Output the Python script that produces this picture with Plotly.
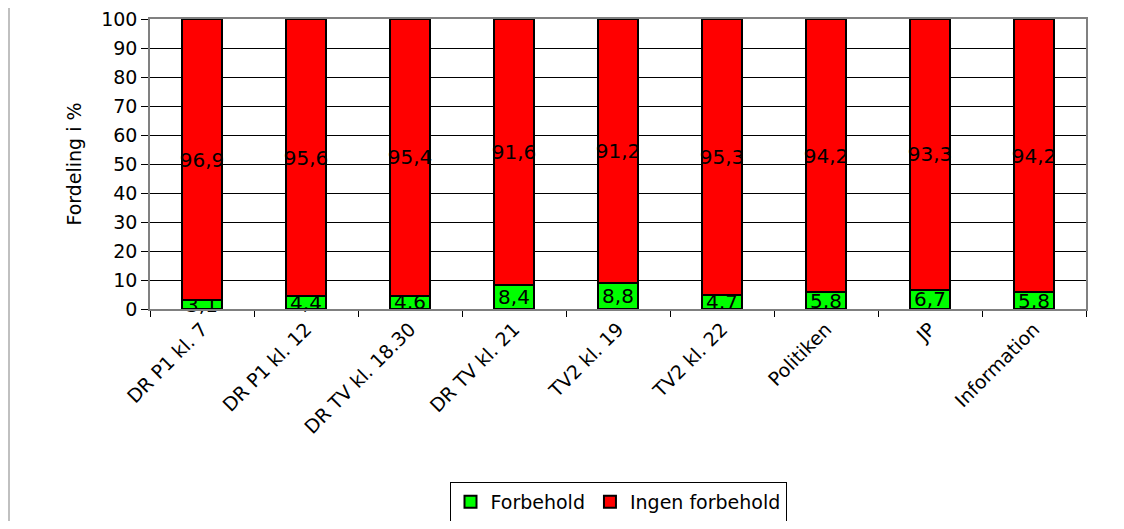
import plotly.graph_objects as go

categories = ["DR P1 kl. 7", "DR P1 kl. 12", "DR TV kl. 18.30", "DR TV kl. 21",
              "TV2 kl. 19", "TV2 kl. 22", "Politiken", "JP", "Information"]
forbehold = [3.1, 4.4, 4.6, 8.4, 8.8, 4.7, 5.8, 6.7, 5.8]
ingen_forbehold = [96.9, 95.6, 95.4, 91.6, 91.2, 95.3, 94.2, 93.3, 94.2]
y_ticks = list(range(0, 101, 10))

FONT = "DejaVu Sans"

# the page body has an 8px margin, so the figure is placed at (8, 8)
W, H = 1116, 513
L, R, T, B = 142, 38, 11, 212
PW, PH = W - L - R, H - T - B

fig = go.Figure()
for name, vals, color in [("Forbehold", forbehold, "#00FF00"),
                          ("Ingen forbehold", ingen_forbehold, "#FF0000")]:
    fig.add_trace(go.Bar(
        x=categories, y=vals, name=name,
        marker=dict(color=color, line=dict(color="black", width=2)),
        texttemplate="%{y:.1f}", textposition="inside",
        insidetextanchor="middle", constraintext="none", textangle=0,
        insidetextfont=dict(family=FONT, size=20, color="black"),
        cliponaxis=False,
    ))

fig.update_layout(
    width=W, height=H,
    barmode="stack", bargap=0.615,
    separators=",.",
    plot_bgcolor="white", paper_bgcolor="white",
    font=dict(family=FONT, size=19, color="black"),
    margin=dict(l=L, r=R, t=T, b=B, autoexpand=False),
    uniformtext=dict(minsize=20, mode="show"),
    showlegend=True,
    legend=dict(orientation="h", x=0.5, xanchor="center",
                y=(PH - (482 - 8 - T)) / PH, yanchor="top",
                bordercolor="black", borderwidth=1, bgcolor="white",
                font=dict(family=FONT, size=19), traceorder="normal",
                itemwidth=30, tracegroupgap=0),
    shapes=[dict(type="line", xref="paper", yref="paper",
                 x0=(1 - L) / PW, x1=(1 - L) / PW,
                 y0=-B / PH, y1=(PH + T) / PH,
                 line=dict(color="#c0c0c0", width=2))],
)
fig.update_xaxes(
    automargin=False, ticklabeloverflow="allow",
    tickangle=-45, ticks="outside", ticklen=6, tickcolor="black",
    tickson="boundaries", showline=True, linecolor="#808080", linewidth=1.5,
    mirror=True, showgrid=False, tickfont=dict(family=FONT, size=19),
)
fig.update_yaxes(
    automargin=False, ticklabeloverflow="allow",
    range=[0, 100], tickvals=y_ticks, ticks="outside", ticklen=7,
    tickcolor="black", showline=True, linecolor="#808080", linewidth=1.5,
    mirror=True, showgrid=True, gridcolor="black", gridwidth=1,
    zeroline=False, tickfont=dict(family=FONT, size=19),
    title=dict(text="Fordeling i %", font=dict(family=FONT, size=19), standoff=15),
)

fig.write_html("out.html")
